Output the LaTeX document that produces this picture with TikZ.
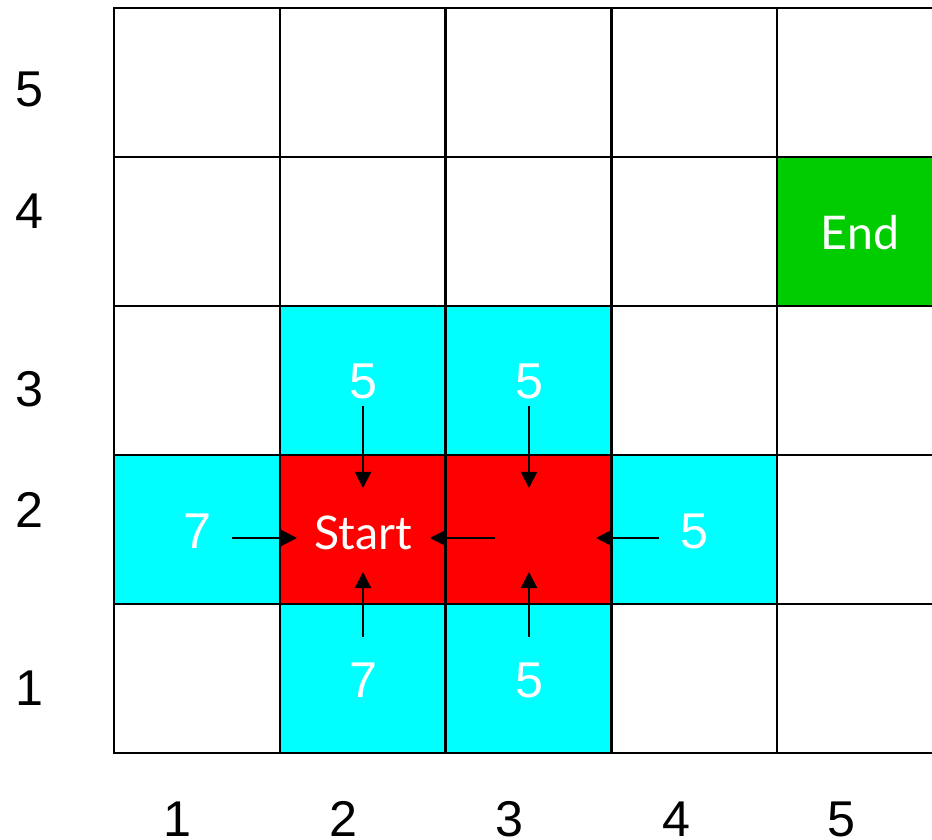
\documentclass[tikz,border=0pt]{standalone}
\usepackage{fontspec}
\setmainfont{Liberation Sans}
\newfontfamily\gillfont{Lato}
\usepackage{tikz}
\usetikzlibrary{calc,arrows.meta,positioning}
\definecolor{gridCyan}{RGB}{0,255,255}
\definecolor{gridRed}{RGB}{255,0,0}
\definecolor{gridGreen}{RGB}{0,204,0}

\begin{document}
\begin{tikzpicture}[x=0.01cm, y=-0.01cm,
  cellBox/.style={draw=black, line width=0.6pt, inner sep=0pt,
    minimum width=1.658cm, minimum height=1.49cm},
  axisLbl/.style={inner sep=0pt, font=\fontsize{14.3}{16}\selectfont},
  cellVal/.style={inner sep=0pt, text=white, font=\fontsize{14.3}{16}\selectfont},
  cellWord/.style={inner sep=0pt, text=white, font=\gillfont\fontsize{13.2}{16}\selectfont},
  flowArrow/.style={draw=black, line width=0.6pt, -{Triangle[length=0.16cm, width=0.16cm]}}]
\useasboundingbox (0,0) rectangle (932,840);
\clip (0,0) rectangle (932,840);

% plain grid
\foreach \i in {1,...,5} {
  \foreach \j in {1,...,5} {
    \node[cellBox] (c-\i-\j) at ({114+165.8*(\i-0.5)},{8+149*(5.5-\j)}) {};
  }
}

% coloured cells
\foreach \i/\j/\col in {2/3/gridCyan,3/3/gridCyan,1/2/gridCyan,4/2/gridCyan,2/1/gridCyan,3/1/gridCyan,2/2/gridRed,3/2/gridRed,5/4/gridGreen} {
  \node[cellBox, fill=\col] at (c-\i-\j) {};
}

% axis numbers
\foreach \n/\y in {5/89.5,4/211,3/389,2/510,1/688} {
  \node[axisLbl] (ly-\n) at (29,\y) {\n};
}
\foreach \n/\x in {1/177,2/343,3/509,4/676,5/841} {
  \node[axisLbl] (lx-\n) at (\x,819) {\n};
}

% cell texts
\node[cellVal] (v-2-3) at (363,381) {5};
\node[cellVal] (v-3-3) at (529,381) {5};
\node[cellVal] (v-1-2) at (197,531) {7};
\node[cellVal] (v-4-2) at (694,531) {5};
\node[cellVal] (v-2-1) at (363,680) {7};
\node[cellVal] (v-3-1) at (529,680) {5};
\node[cellWord] (start) at (363,533) {Start};
\node[cellWord] (end) at (860,233) {End};

% arrow tips
\coordinate (t-n2) at (363,488);
\coordinate (t-n3) at (529,488);
\coordinate (t-s2) at (363,572);
\coordinate (t-s3) at (529,572);
\coordinate (t-w) at (297,538);
\coordinate (t-e) at (596,538);
\coordinate (t-m) at (430,538);
\coordinate (m-3-2) at (495,538);

\draw[flowArrow, shorten <=0.07cm] (v-2-3.south) -- (t-n2);
\draw[flowArrow, shorten <=0.07cm] (v-3-3.south) -- (t-n3);
\draw[flowArrow, shorten <=0.25cm] (v-2-1.north) -- (t-s2);
\draw[flowArrow, shorten <=0.25cm] (v-3-1.north) -- (t-s3);
\draw[flowArrow, shorten <=0.2cm] (v-1-2.east |- t-w) -- (t-w);
\draw[flowArrow, shorten <=0.2cm] (v-4-2.west |- t-e) -- (t-e);
\draw[flowArrow] (m-3-2) -- (t-m);
\end{tikzpicture}
\end{document}
